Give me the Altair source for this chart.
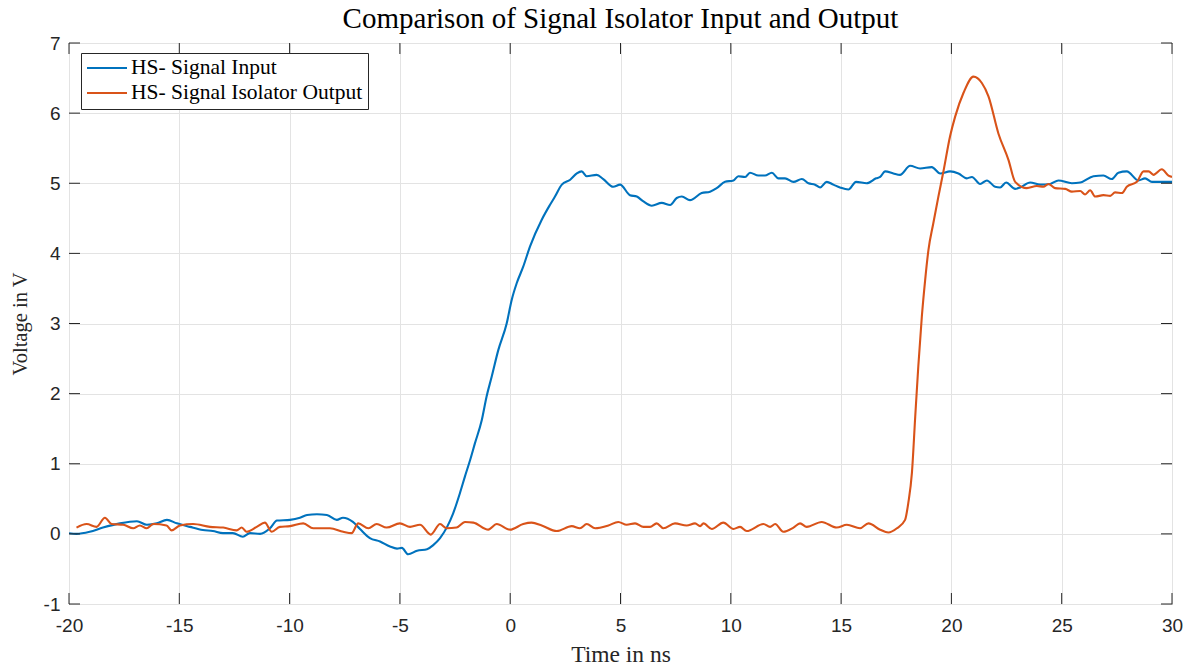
import altair as alt
import pandas as pd

# Time axis (ns) and voltages
input_t = [-20.00, -19.66, -19.06, -18.46, -17.69, -16.92, -16.47, -16.02, -15.56, -15.11,
           -14.52, -13.93, -13.48, -13.02, -12.57, -12.12, -11.80, -11.34, -10.89, -10.57,
           -9.98, -9.53, -9.21, -8.76, -8.31, -7.86, -7.58, -7.13, -6.81, -6.36,
           -5.90, -5.45, -5.13, -4.91, -4.63, -4.22, -3.77, -3.49, -3.18, -2.86,
           -2.59, -2.28, -2.05, -1.82, -1.60, -1.29, -1.07, -0.84, -0.54, -0.16,
           0.07, 0.29, 0.59, 0.90, 1.43, 1.80, 2.03, 2.34, 2.72, 3.02,
           3.24, 3.47, 3.92, 4.22, 4.67, 4.98, 5.43, 5.74, 6.04, 6.42,
           6.87, 7.25, 7.55, 7.78, 8.15, 8.68, 9.06, 9.36, 9.74, 10.12,
           10.34, 10.65, 10.87, 11.25, 11.55, 11.86, 12.16, 12.46, 12.84, 13.22,
           13.52, 13.82, 14.05, 14.35, 14.65, 14.95, 15.33, 15.68, 16.16, 16.59,
           16.77, 17.00, 17.37, 17.67, 18.13, 18.58, 19.11, 19.49, 19.94, 20.32,
           20.70, 20.93, 21.30, 21.61, 21.98, 22.21, 22.48, 22.89, 23.12, 23.57,
           24.02, 24.48, 24.85, 25.46, 25.84, 26.44, 26.89, 27.27, 27.57, 27.95,
           28.48, 28.78, 29.09, 30.00]
input_v = [0.01, 0.00, 0.03, 0.09, 0.15, 0.18, 0.13, 0.15, 0.20, 0.15,
           0.10, 0.055, 0.04, 0.01, 0.01, -0.04, 0.01, 0.00, 0.08, 0.19,
           0.20, 0.23, 0.27, 0.28, 0.27, 0.20, 0.23, 0.17, 0.07, -0.06,
           -0.11, -0.18, -0.21, -0.20, -0.29, -0.24, -0.22, -0.16, -0.06, 0.10,
           0.29, 0.58, 0.82, 1.05, 1.29, 1.62, 1.96, 2.24, 2.62, 3.00,
           3.34, 3.57, 3.81, 4.10, 4.48, 4.69, 4.81, 4.98, 5.05, 5.14,
           5.17, 5.10, 5.12, 5.06, 4.95, 4.98, 4.83, 4.81, 4.74, 4.68,
           4.72, 4.69, 4.79, 4.81, 4.76, 4.86, 4.88, 4.93, 5.02, 5.04,
           5.10, 5.09, 5.15, 5.11, 5.11, 5.15, 5.07, 5.07, 5.02, 5.06,
           5.00, 4.98, 4.94, 5.02, 4.98, 4.94, 4.91, 5.02, 5.00, 5.07,
           5.09, 5.17, 5.14, 5.12, 5.25, 5.21, 5.23, 5.14, 5.17, 5.14,
           5.07, 5.09, 4.99, 5.04, 4.95, 4.94, 5.01, 4.92, 4.94, 5.01,
           4.98, 4.99, 5.04, 5.00, 5.01, 5.10, 5.11, 5.06, 5.15, 5.17,
           5.04, 5.07, 5.02, 5.02]

output_t = [-19.66, -19.20, -18.75, -18.37, -18.07, -17.54, -17.09, -16.79, -16.48, -16.18,
            -15.58, -15.35, -14.97, -14.37, -13.61, -13.01, -12.40, -12.17, -11.95, -11.49,
            -11.12, -10.81, -10.44, -9.98, -9.38, -8.93, -8.17, -7.57, -7.19, -6.89,
            -6.43, -6.05, -5.60, -5.00, -4.54, -4.09, -3.60, -3.18, -2.88, -2.43,
            -2.05, -1.67, -0.99, -0.61, -0.01, 0.59, 0.97, 1.43, 2.11, 2.79,
            3.16, 3.47, 3.85, 4.45, 4.90, 5.28, 5.66, 6.04, 6.34, 6.64,
            6.94, 7.47, 8.00, 8.38, 8.61, 8.76, 9.14, 9.66, 10.12, 10.42,
            10.72, 11.48, 11.78, 12.01, 12.38, 12.84, 13.14, 13.44, 14.12, 14.80,
            15.26, 15.86, 16.24, 16.77, 17.14, 17.53, 17.90, 18.05, 18.21, 18.36,
            18.50, 18.66, 18.81, 18.96, 19.18, 19.41, 19.64, 19.94, 20.17, 20.55,
            21.00, 21.38, 21.68, 22.13, 22.59, 22.89, 23.42, 23.87, 24.17, 24.40,
            24.70, 25.16, 25.46, 25.84, 26.06, 26.29, 26.52, 26.89, 27.20, 27.42,
            27.73, 27.95, 28.41, 28.71, 28.94, 29.16, 29.54, 29.84, 30.00]
output_v = [0.09, 0.14, 0.10, 0.23, 0.14, 0.13, 0.08, 0.12, 0.08, 0.14,
            0.12, 0.05, 0.12, 0.14, 0.10, 0.09, 0.05, 0.09, 0.03, 0.10,
            0.16, 0.03, 0.10, 0.11, 0.15, 0.08, 0.08, 0.03, 0.01, 0.15,
            0.08, 0.14, 0.09, 0.15, 0.10, 0.13, -0.01, 0.14, 0.08, 0.09,
            0.17, 0.16, 0.06, 0.14, 0.06, 0.14, 0.16, 0.12, 0.04, 0.11,
            0.08, 0.14, 0.08, 0.12, 0.17, 0.13, 0.15, 0.10, 0.10, 0.15,
            0.08, 0.15, 0.12, 0.15, 0.11, 0.15, 0.07, 0.16, 0.07, 0.10,
            0.04, 0.14, 0.10, 0.14, 0.03, 0.09, 0.15, 0.10, 0.17, 0.09,
            0.13, 0.08, 0.15, 0.06, 0.02, 0.08, 0.20, 0.45, 0.87, 1.67,
            2.39, 3.10, 3.62, 4.05, 4.43, 4.81, 5.17, 5.67, 5.95, 6.29,
            6.52, 6.43, 6.24, 5.71, 5.33, 5.02, 4.93, 4.96, 4.95, 4.99,
            4.93, 4.92, 4.88, 4.89, 4.84, 4.90, 4.81, 4.83, 4.82, 4.87,
            4.86, 4.95, 5.02, 5.17, 5.17, 5.12, 5.20, 5.11, 5.09]

series_names = ["HS- Signal Input", "HS- Signal Isolator Output"]
series_colors = ["#0072BD", "#D95319"]
x_ticks = [-20, -15, -10, -5, 0, 5, 10, 15, 20, 25, 30]
y_ticks = [-1, 0, 1, 2, 3, 4, 5, 6, 7]

W, H = 1103, 561
TICK = 11
AXIS_COLOR = "#262626"

df = pd.concat([
    pd.DataFrame({"t": input_t, "v": input_v, "series": series_names[0], "order": range(len(input_t))}),
    pd.DataFrame({"t": output_t, "v": output_v, "series": series_names[1], "order": range(len(output_t))}),
])

xscale = alt.Scale(domain=[-20, 30], nice=False, zero=False)
yscale = alt.Scale(domain=[-1, 7], nice=False, zero=False)

lines = alt.Chart(df).mark_line(strokeWidth=2.1, clip=True, interpolate="monotone").encode(
    x=alt.X("t:Q", scale=xscale, title="Time in ns",
            axis=alt.Axis(values=x_ticks, labelExpr="datum.value + ''", ticks=False,
                          domain=False, labelFlush=False, labelPadding=12, titlePadding=7,
                          titleFontSize=23.5)),
    y=alt.Y("v:Q", scale=yscale, title="Voltage in V",
            axis=alt.Axis(values=y_ticks, labelExpr="datum.value + ''", ticks=False,
                          domain=False, labelPadding=9, titlePadding=13, titleFontSize=20.5)),
    color=alt.Color("series:N", sort=series_names,
                    scale=alt.Scale(domain=series_names, range=series_colors),
                    legend=alt.Legend(title=None, orient="none", legendX=12, legendY=10,
                                      symbolType="stroke", symbolSize=1600, symbolStrokeWidth=2,
                                      clipHeight=20,
                                      labelFont="Liberation Serif", labelFontSize=21.5,
                                      labelColor="#000000", labelLimit=0,
                                      strokeColor=AXIS_COLOR,
                                      fillColor="white", padding=5, rowPadding=3,
                                      labelOffset=3, cornerRadius=0, symbolOffset=0)),
    order="order:Q",
)

xt = pd.DataFrame({"tick": x_ticks})
yt = pd.DataFrame({"tick": y_ticks})

bottom_ticks = alt.Chart(xt).mark_rule(color=AXIS_COLOR, strokeWidth=1).encode(
    x=alt.X("tick:Q", scale=xscale), y=alt.value(H), y2=alt.value(H - TICK))
top_ticks = alt.Chart(xt).mark_rule(color=AXIS_COLOR, strokeWidth=1).encode(
    x=alt.X("tick:Q", scale=xscale), y=alt.value(0), y2=alt.value(TICK))
left_ticks = alt.Chart(yt).mark_rule(color=AXIS_COLOR, strokeWidth=1).encode(
    y=alt.Y("tick:Q", scale=yscale), x=alt.value(0), x2=alt.value(TICK))
right_ticks = alt.Chart(yt).mark_rule(color=AXIS_COLOR, strokeWidth=1).encode(
    y=alt.Y("tick:Q", scale=yscale), x=alt.value(W), x2=alt.value(W - TICK))

chart = alt.layer(lines, bottom_ticks, top_ticks, left_ticks, right_ticks).properties(
    width=W, height=H,
    autosize=alt.AutoSizeParams(type="none"),
    padding={"left": 69, "top": 43, "right": 21, "bottom": 66},
    background="white",
    title=alt.Title("Comparison of Signal Isolator Input and Output",
                    font="Liberation Serif", fontSize=29, fontWeight="normal",
                    color="#000000", offset=0, anchor="middle"),
).configure_view(
    stroke=AXIS_COLOR, strokeWidth=1
).configure_axis(
    labelFont="Liberation Sans", labelFontSize=19, labelColor=AXIS_COLOR,
    titleFont="Liberation Serif", titleFontWeight="normal",
    titleColor=AXIS_COLOR, gridColor="#e3e3e3", gridWidth=1,
)

chart.save("out.html", embed_options={"renderer": "svg", "actions": False})
